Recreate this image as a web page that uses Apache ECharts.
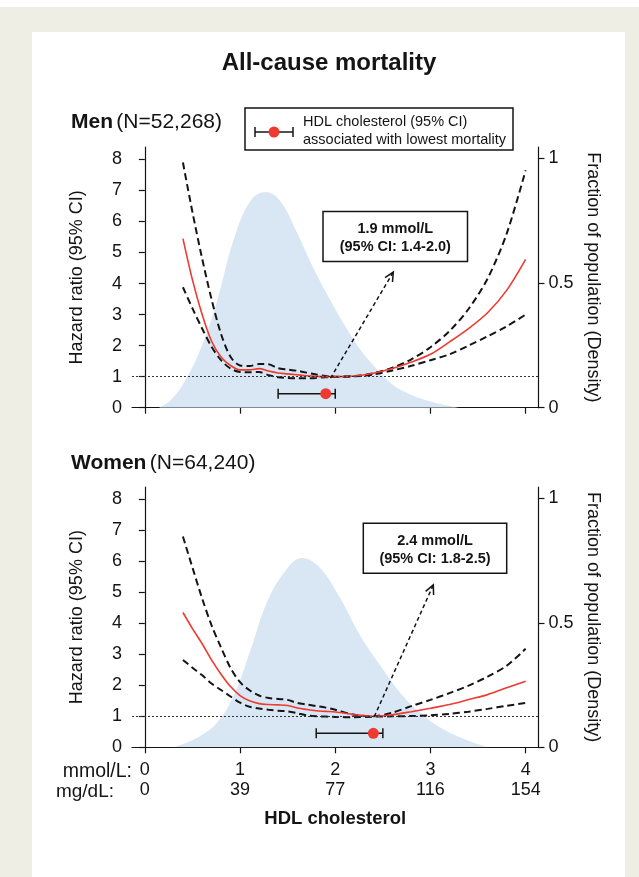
<!DOCTYPE html>
<html><head><meta charset="utf-8">
<script src="https://cdn.jsdelivr.net/npm/echarts@6/dist/echarts.min.js"></script>
<style>
html,body{margin:0;padding:0;}
#wrap{position:relative;width:639px;height:877px;background:#eeeee4;overflow:hidden;}
#topstrip{position:absolute;left:0;top:0;width:639px;height:7px;background:#fff;}
#panel{position:absolute;left:32px;top:32px;width:593px;height:845px;background:#fff;}
#chart{position:absolute;left:0;top:0;width:639px;height:877px;}
</style></head>
<body><div id="wrap"><div id="topstrip"></div><div id="panel"></div><div id="chart"></div></div>
<script>
// ---- data ----
const mmolTicks = [0, 1, 2, 3, 4];
const mgdlTicks = ['0', '39', '77', '116', '154'];
const hrTicks = [0, 1, 2, 3, 4, 5, 6, 7, 8];
const densTicks = [0, 0.5, 1];

const hrX = [0.4,0.5,0.6,0.7,0.8,0.9,1.0,1.1,1.2,1.3,1.4,1.5,1.6,1.7,1.8,1.9,2.0,2.2,2.4,2.6,2.8,3.0,3.2,3.4,3.6,3.8,4.0];

const menHR    = [5.45,4.12,3.02,2.15,1.63,1.36,1.22,1.22,1.26,1.18,1.12,1.09,1.06,1.03,1.01,1.00,1.00,1.02,1.11,1.26,1.47,1.72,2.12,2.55,3.06,3.78,4.78];
const menUpper = [7.90,6.30,4.83,3.50,2.38,1.64,1.36,1.34,1.41,1.40,1.27,1.23,1.19,1.13,1.07,1.02,1.00,1.02,1.11,1.29,1.56,1.95,2.47,3.18,4.16,5.60,7.65];
const menLower = [3.88,3.20,2.56,1.97,1.53,1.26,1.15,1.14,1.15,1.05,0.98,0.96,0.95,0.95,0.96,0.98,0.99,1.01,1.07,1.20,1.35,1.53,1.72,2.00,2.30,2.62,3.00];

const womenHR    = [4.35,3.83,3.35,2.82,2.36,1.96,1.67,1.50,1.41,1.38,1.37,1.35,1.27,1.22,1.18,1.16,1.14,1.06,1.00,1.05,1.15,1.26,1.38,1.54,1.70,1.92,2.13];
const womenUpper = [6.80,5.80,4.82,3.94,3.22,2.56,2.10,1.84,1.67,1.59,1.56,1.53,1.43,1.38,1.33,1.28,1.21,1.05,1.00,1.12,1.33,1.53,1.75,1.99,2.28,2.63,3.18];
const womenLower = [2.82,2.57,2.33,2.06,1.85,1.64,1.44,1.31,1.25,1.21,1.18,1.16,1.10,1.03,1.00,0.99,0.98,0.97,0.99,1.00,1.01,1.03,1.08,1.15,1.24,1.34,1.43];

const menDensX = [0.15,0.27,0.41,0.58,0.76,0.93,1.11,1.27,1.42,1.60,1.77,1.95,2.10,2.25,2.40,2.58,2.75,3.00,3.30];
const menDensY = [0,0.03,0.10,0.23,0.43,0.67,0.83,0.865,0.83,0.70,0.56,0.43,0.33,0.24,0.17,0.10,0.06,0.025,0];

const womenDensX = [0.30,0.45,0.60,0.76,0.93,1.11,1.28,1.46,1.65,1.84,2.05,2.26,2.47,2.68,2.89,3.10,3.31,3.60];
const womenDensY = [0,0.02,0.05,0.10,0.205,0.39,0.58,0.70,0.76,0.72,0.60,0.45,0.33,0.22,0.14,0.08,0.04,0];

// optimum HDL: [CI low, CI high, estimate]
const menOptimum = [1.4, 2.0, 1.9];
const womenOptimum = [1.8, 2.5, 2.4];
// annotation arrows: [x0, y0, x1, y1] in data units
const menArrow = [1.95, 0.95, 2.61, 4.37];
const womenArrow = [2.41, 0.99, 3.03, 5.24];

// ---- layout / style ----
const FONT = "'Liberation Sans', Arial, Helvetica, sans-serif";
const INK = '#141414';
const RED = '#ee3a30';
const BLUE = '#d9e7f5';
const ERR_Y = 0.45;

function pairs(xs, ys) { return xs.map((x, i) => [x, ys[i]]); }

const chart = echarts.init(document.getElementById('chart'), null, {renderer: 'canvas'});

const grids = [
  {left: 132, top: 147, width: 406.5, height: 260.7},
  {left: 132, top: 487, width: 406.5, height: 260.3}
];

const xAxes = [0, 1].map(i => ({
  type: 'value', gridIndex: i, min: -0.135, max: 4.135,
  axisLine: {onZero: false, lineStyle: {color: INK, width: 1.2}},
  axisTick: {customValues: mmolTicks, length: 6, lineStyle: {color: INK, width: 1.2}},
  axisLabel: i === 0 ? {show: false} : {
    customValues: mmolTicks,
    formatter: v => v + '\n' + mgdlTicks[mmolTicks.indexOf(v)],
    fontSize: 18, lineHeight: 20, margin: 13, color: INK, fontFamily: FONT
  },
  splitLine: {show: false},
  name: i === 1 ? 'HDL cholesterol' : '',
  nameLocation: 'middle', nameGap: 62,
  nameTextStyle: {fontWeight: 'bold', fontSize: 18.5, color: INK, fontFamily: FONT}
}));

const yAxes = [];
[0, 1].forEach(i => {
  yAxes.push({
    type: 'value', gridIndex: i, position: 'left', min: 0, max: 8.4,
    axisLine: {show: true, lineStyle: {color: INK, width: 1.2}},
    axisTick: {show: true, customValues: hrTicks, length: 6, lineStyle: {color: INK, width: 1.2}},
    axisLabel: {customValues: hrTicks, fontSize: 18, margin: 10, color: INK, fontFamily: FONT},
    splitLine: {show: false},
    name: 'Hazard ratio (95% CI)', nameLocation: 'middle', nameGap: 46,
    nameTextStyle: {fontSize: 18, color: INK, fontFamily: FONT}
  });
  yAxes.push({
    type: 'value', gridIndex: i, position: 'right', min: 0, max: 1.045,
    axisLine: {show: true, lineStyle: {color: INK, width: 1.2}},
    axisTick: {show: true, customValues: densTicks, length: 6, lineStyle: {color: INK, width: 1.2}},
    axisLabel: {customValues: densTicks, fontSize: 18, margin: 10, color: INK, fontFamily: FONT},
    splitLine: {show: false},
    name: 'Fraction of population (Density)', nameLocation: 'middle', nameGap: 42, nameRotate: -90,
    nameTextStyle: {fontSize: 18, color: INK, fontFamily: FONT}
  });
});

function errItem(params, api) {
  const lo = api.coord([api.value(0), api.value(3)]);
  const hi = api.coord([api.value(1), api.value(3)]);
  const est = api.coord([api.value(2), api.value(3)]);
  const st = {stroke: INK, lineWidth: 1.5};
  return {type: 'group', children: [
    {type: 'line', shape: {x1: lo[0], y1: lo[1], x2: hi[0], y2: hi[1]}, style: st},
    {type: 'line', shape: {x1: lo[0], y1: lo[1] - 5, x2: lo[0], y2: lo[1] + 5}, style: st},
    {type: 'line', shape: {x1: hi[0], y1: hi[1] - 5, x2: hi[0], y2: hi[1] + 5}, style: st},
    {type: 'circle', shape: {cx: est[0], cy: est[1], r: 5.5}, style: {fill: RED}}
  ]};
}
function arrowItem(params, api) {
  const p0 = api.coord([api.value(0), api.value(1)]);
  const p1 = api.coord([api.value(2), api.value(3)]);
  const ang = Math.atan2(p1[1] - p0[1], p1[0] - p0[0]);
  const L = 10, a = 0.45;
  const h1 = [p1[0] - L * Math.cos(ang - a), p1[1] - L * Math.sin(ang - a)];
  const h2 = [p1[0] - L * Math.cos(ang + a), p1[1] - L * Math.sin(ang + a)];
  return {type: 'group', children: [
    {type: 'line', shape: {x1: p0[0], y1: p0[1], x2: p1[0], y2: p1[1]}, style: {stroke: INK, lineWidth: 1.5, lineDash: [4, 3]}},
    {type: 'polyline', shape: {points: [h1, p1, h2]}, style: {stroke: INK, lineWidth: 1.5, fill: null}}
  ]};
}

const series = [];
const panels = [
  {dx: menDensX, dy: menDensY, hr: menHR, up: menUpper, lo: menLower, opt: menOptimum, arr: menArrow},
  {dx: womenDensX, dy: womenDensY, hr: womenHR, up: womenUpper, lo: womenLower, opt: womenOptimum, arr: womenArrow}
];
panels.forEach((p, i) => {
  series.push({type: 'line', xAxisIndex: i, yAxisIndex: 2 * i + 1, data: pairs(p.dx, p.dy), smooth: 0.4,
    symbol: 'none', lineStyle: {width: 0, opacity: 0}, areaStyle: {color: BLUE, opacity: 1}, z: 1, silent: true});
  [p.up, p.lo].forEach(arr => series.push({type: 'line', xAxisIndex: i, yAxisIndex: 2 * i, data: pairs(hrX, arr),
    smooth: 0.3, symbol: 'none', lineStyle: {color: INK, width: 2, type: [7, 4]}, z: 3, silent: true}));
  series.push({type: 'line', xAxisIndex: i, yAxisIndex: 2 * i, data: pairs(hrX, p.hr), smooth: 0.3,
    symbol: 'none', lineStyle: {color: RED, width: 1.6}, z: 4, silent: true,
    markLine: {silent: true, symbol: 'none', label: {show: false},
      lineStyle: {color: '#333', width: 1.1, type: [2, 2]}, data: [{yAxis: 1}]}});
  series.push({type: 'custom', xAxisIndex: i, yAxisIndex: 2 * i, renderItem: errItem,
    data: [[p.opt[0], p.opt[1], p.opt[2], ERR_Y]], encode: {x: [0, 1, 2], y: 3}, z: 5, silent: true});
  series.push({type: 'custom', xAxisIndex: i, yAxisIndex: 2 * i, renderItem: arrowItem,
    data: [p.arr], encode: {x: [0, 2], y: [1, 3]}, z: 5, silent: true});
});

function txt(text, x, y, opts) {
  return Object.assign({type: 'text', x: x, y: y, z: 10, style: Object.assign({text: text, fill: INK, fontFamily: FONT,
    fontSize: 14.5, align: 'center', verticalAlign: 'middle'}, opts || {})});
}
function box(x, y, w, h) {
  return {type: 'rect', z: 9, shape: {x: x, y: y, width: w, height: h}, style: {fill: '#fff', stroke: INK, lineWidth: 1.5}};
}

const graphic = [
  txt('All-cause mortality', 329, 63, {fontSize: 24, fontWeight: 'bold'}),
  {type: 'text', x: 71, y: 122, z: 10, style: {text: '{b|Men} {n|(N=52,268)}', verticalAlign: 'middle', align: 'left',
    rich: {b: {fontWeight: 'bold', fontSize: 21, fontFamily: FONT, fill: INK}, n: {fontSize: 21, fontFamily: FONT, fill: INK}}}},
  {type: 'text', x: 71, y: 463, z: 10, style: {text: '{b|Women} {n|(N=64,240)}', verticalAlign: 'middle', align: 'left',
    rich: {b: {fontWeight: 'bold', fontSize: 21, fontFamily: FONT, fill: INK}, n: {fontSize: 21, fontFamily: FONT, fill: INK}}}},
  // legend
  box(245, 108, 268, 42),
  {type: 'line', z: 10, shape: {x1: 255, y1: 132, x2: 293, y2: 132}, style: {stroke: INK, lineWidth: 1.5}},
  {type: 'line', z: 10, shape: {x1: 255, y1: 127, x2: 255, y2: 137}, style: {stroke: INK, lineWidth: 1.5}},
  {type: 'line', z: 10, shape: {x1: 293, y1: 127, x2: 293, y2: 137}, style: {stroke: INK, lineWidth: 1.5}},
  {type: 'circle', z: 11, shape: {cx: 274, cy: 132, r: 5.5}, style: {fill: RED}},
  txt('HDL cholesterol (95% CI)', 303, 121.5, {align: 'left'}),
  txt('associated with lowest mortality', 303, 139.5, {align: 'left'}),
  // annotation boxes
  box(323, 211.5, 144.5, 50),
  txt('1.9 mmol/L', 395.3, 229, {fontWeight: 'bold'}),
  txt('(95% CI: 1.4-2.0)', 395.3, 247, {fontWeight: 'bold'}),
  box(363.3, 523.3, 143.4, 50),
  txt('2.4 mmol/L', 435, 541, {fontWeight: 'bold'}),
  txt('(95% CI: 1.8-2.5)', 435, 559, {fontWeight: 'bold'}),
  // unit labels
  txt('mmol/L:', 132, 772, {align: 'right', fontSize: 19.5}),
  txt('mg/dL:', 114, 792, {align: 'right', fontSize: 19})
];

chart.setOption({
  backgroundColor: 'transparent',
  animation: false,
  grid: grids,
  xAxis: xAxes,
  yAxis: yAxes,
  series: series,
  graphic: graphic
});
</script>
</body></html>
